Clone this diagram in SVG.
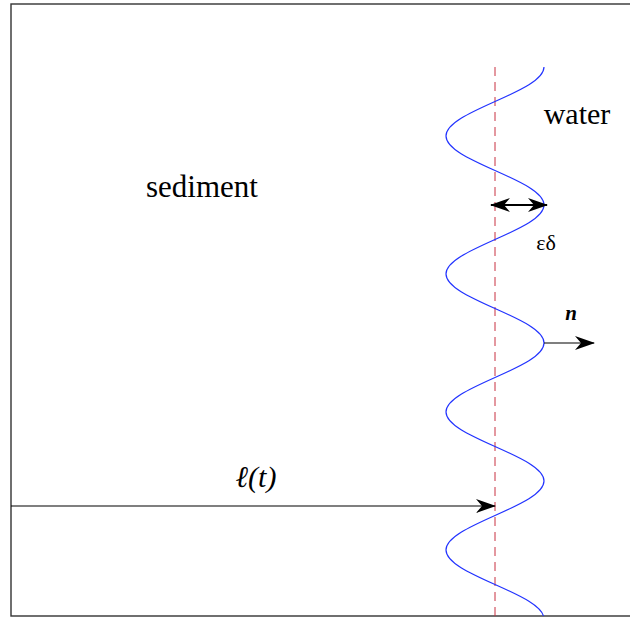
<svg xmlns="http://www.w3.org/2000/svg" width="630" height="617" viewBox="0 0 630 617">
<defs>
<marker id="ah" viewBox="0 0 20 14" refX="19" refY="7" markerWidth="20" markerHeight="14" markerUnits="userSpaceOnUse" orient="auto-start-reverse">
<path d="M0,0 L20,7 L0,14 L6,7 Z" fill="#000"/>
</marker>
<clipPath id="frame"><rect x="11" y="4" width="625" height="612"/></clipPath>
</defs>
<rect x="11" y="4" width="625" height="612" fill="#fff" stroke="#333" stroke-width="1.4"/>
<g id="interface-centerline">
<line x1="495" y1="67" x2="495" y2="616" stroke="#c83040" stroke-width="1" stroke-dasharray="9,6"/>
</g>
<g id="interface-wave" clip-path="url(#frame)">
<path d="M544,67 c0,12.49 -23.9,23.25 -49,34.5 c-25.1,11.25 -49,22.01 -49,34.5 c0,12.49 23.9,23.25 49,34.5 c25.1,11.25 49,22.01 49,34.5 c0,12.49 -23.9,23.25 -49,34.5 c-25.1,11.25 -49,22.01 -49,34.5 c0,12.49 23.9,23.25 49,34.5 c25.1,11.25 49,22.01 49,34.5 c0,12.49 -23.9,23.25 -49,34.5 c-25.1,11.25 -49,22.01 -49,34.5 c0,12.49 23.9,23.25 49,34.5 c25.1,11.25 49,22.01 49,34.5 c0,12.49 -23.9,23.25 -49,34.5 c-25.1,11.25 -49,22.01 -49,34.5 c0,12.49 23.9,23.25 49,34.5 c25.1,11.25 49,22.01 49,34.5" fill="none" stroke="#2233ff" stroke-width="1.2"/>
</g>
<g id="connectors" stroke="#000" fill="none">
<line x1="491" y1="205" x2="547" y2="205" stroke-width="2" marker-start="url(#ah)" marker-end="url(#ah)"/>
<line x1="544" y1="343" x2="594" y2="343" stroke-width="1.2" marker-end="url(#ah)"/>
<line x1="11" y1="506" x2="495" y2="506" stroke-width="1.2" marker-end="url(#ah)"/>
</g>
<g style="font-family:'Liberation Serif','Times New Roman','DejaVu Serif',serif" fill="#000" text-anchor="middle">
<g id="label-sediment"><text x="202" y="197" font-size="31">sediment</text></g>
<g id="label-water"><text x="577" y="124" font-size="30">water</text></g>
<g id="label-epsdelta"><text x="546" y="250" font-size="22">εδ</text></g>
<g id="label-n"><text x="571" y="320" font-size="21" font-style="italic" font-weight="bold">n</text></g>
<g id="label-ell"><text x="256" y="487" font-size="30" font-style="italic">ℓ(t)</text></g>
</g>
</svg>
